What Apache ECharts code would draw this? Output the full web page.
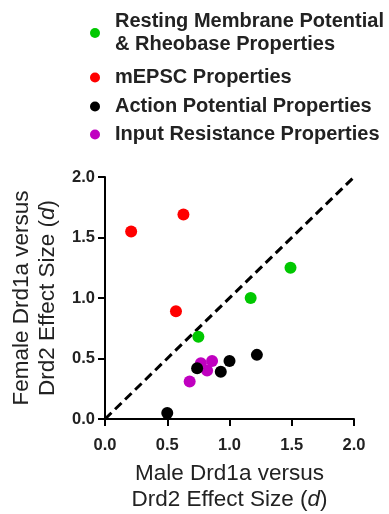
<!DOCTYPE html>
<html><head><meta charset="utf-8">
<script src="https://cdn.jsdelivr.net/npm/echarts@6/dist/echarts.min.js"></script>
<style>html,body{margin:0;padding:0;background:#fff}#c{width:389px;height:514px}</style>
</head><body><div id="c"></div>
<script>
var seriesNames = ['Resting Membrane Potential\n& Rheobase Properties', 'mEPSC Properties', 'Action Potential Properties', 'Input Resistance Properties'];
var rmpMale = [0.75, 1.17, 1.49];
var rmpFemale = [0.68, 1.00, 1.25];
var mepscMale = [0.21, 0.63, 0.57];
var mepscFemale = [1.55, 1.69, 0.89];
var apMale = [0.50, 0.74, 0.93, 1.00, 1.22];
var apFemale = [0.05, 0.42, 0.39, 0.48, 0.53];
var irMale = [0.68, 0.77, 0.82, 0.86];
var irFemale = [0.31, 0.46, 0.40, 0.48];
var identityLine = [[0, 0], [2, 2]];
var tickValues = [0, 0.5, 1.0, 1.5, 2.0];
var colors = ['#00c800', '#ff0000', '#000000', '#c000c0'];

function pairs(xs, ys) { return xs.map(function (x, i) { return [x, ys[i]]; }); }

var FONT = "'Liberation Sans', Arial, sans-serif";
var chart = echarts.init(document.getElementById('c'), null, {renderer: 'canvas'});
var axisCommon = {
  type: 'value', min: 0, max: 2, interval: 0.5,
  axisLine: {show: true, onZero: false, lineStyle: {color: '#000', width: 2}},
  axisTick: {show: true, length: 7, lineStyle: {color: '#000', width: 2}},
  splitLine: {show: false},
  axisLabel: {color: '#222', fontSize: 16.5, fontWeight: 'bold', fontFamily: FONT,
    formatter: function (v) { return v.toFixed(1); }},
  nameLocation: 'middle',
  nameTextStyle: {color: '#222', fontSize: 22.5, fontFamily: FONT, lineHeight: 26,
    rich: {i: {fontStyle: 'italic', fontSize: 22.5, color: '#222', fontFamily: FONT, lineHeight: 26}}}
};
var legendCommon = {
  orient: 'vertical', left: 90, itemWidth: 30, itemHeight: 10, padding: 0, icon: 'circle',
  textStyle: {color: '#222', fontSize: 20, fontWeight: 'bold', fontFamily: FONT, lineHeight: 23},
  selectedMode: false
};
function lg(name, top) { return Object.assign({}, legendCommon, {top: top, data: [name]}); }

chart.setOption({
  animation: false,
  grid: {left: 105, right: 35, top: 177, bottom: 89, containLabel: false},
  legend: [lg(seriesNames[0], 10), lg(seriesNames[1], 66), lg(seriesNames[2], 95), lg(seriesNames[3], 123)],
  xAxis: Object.assign({}, axisCommon, {
    name: 'Male Drd1a versus\nDrd2 Effect Size ({i|d})', nameGap: 42,
    axisLabel: Object.assign({}, axisCommon.axisLabel, {margin: 18})
  }),
  yAxis: Object.assign({}, axisCommon, {
    name: 'Female Drd1a versus\nDrd2 Effect Size ({i|d})', nameGap: 44,
    axisLabel: Object.assign({}, axisCommon.axisLabel, {margin: 10})
  }),
  series: [
    {type: 'line', data: identityLine, symbol: 'none', silent: true, z: 1,
      lineStyle: {color: '#000', width: 3, type: [9, 5]}},
    {name: seriesNames[0], type: 'scatter', data: pairs(rmpMale, rmpFemale), symbolSize: 12, itemStyle: {color: colors[0], opacity: 1}, z: 3},
    {name: seriesNames[1], type: 'scatter', data: pairs(mepscMale, mepscFemale), symbolSize: 12, itemStyle: {color: colors[1], opacity: 1}, z: 3},
    {name: seriesNames[3], type: 'scatter', data: pairs(irMale, irFemale), symbolSize: 12, itemStyle: {color: colors[3], opacity: 1}, z: 3},
    {name: seriesNames[2], type: 'scatter', data: pairs(apMale, apFemale), symbolSize: 12, itemStyle: {color: colors[2], opacity: 1}, z: 4}
  ]
});
</script></body></html>
